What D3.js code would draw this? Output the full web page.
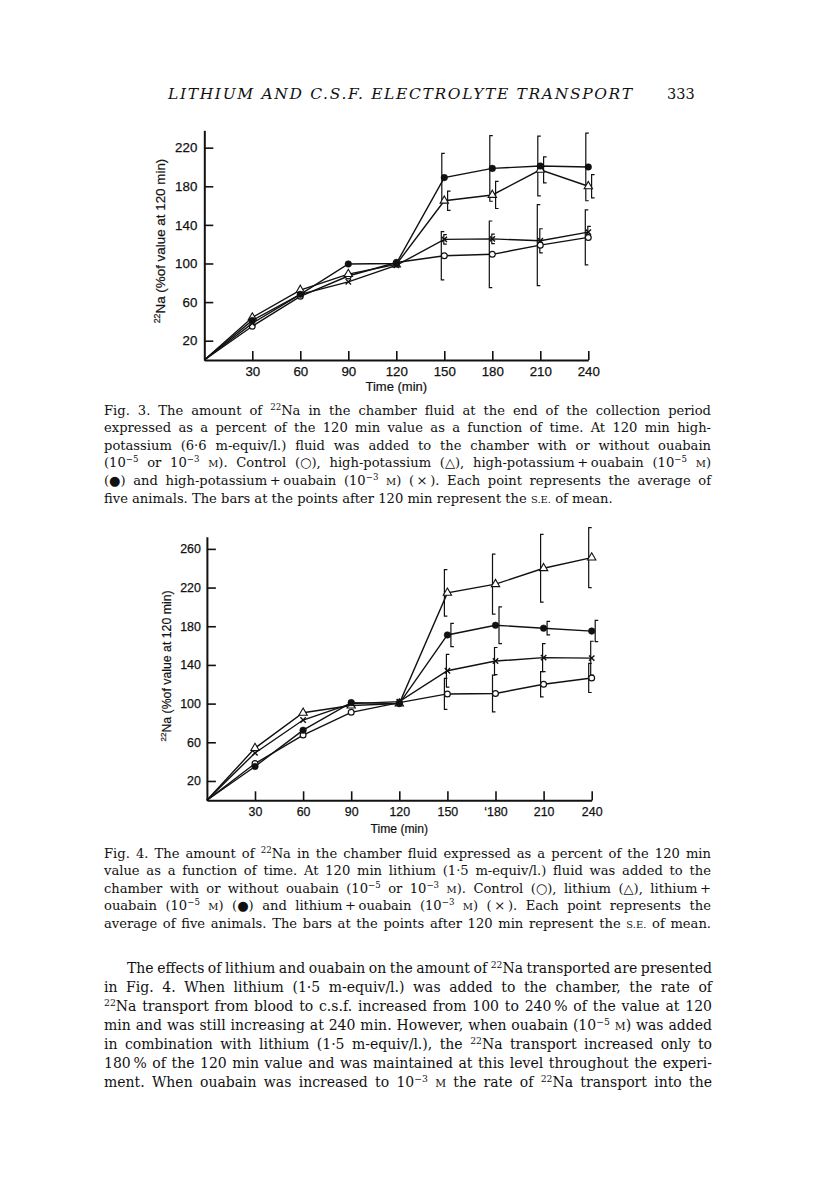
<!DOCTYPE html>
<html>
<head>
<meta charset="utf-8">
<script src="https://cdnjs.cloudflare.com/ajax/libs/d3/7.8.5/d3.min.js"></script>
<style>
html, body { margin: 0; padding: 0; background: #fff; }
svg { display: block; }
</style>
</head>
<body>
<svg id="page" width="816" height="1185"></svg>
<script>
// shared time axis
const times = [0, 30, 60, 90, 120, 150, 180, 210, 240];
const seTimes = [150, 180, 210, 240];
const xTicks = [30, 60, 90, 120, 150, 180, 210, 240];

// Fig. 3 - high potassium
const fig3XLabels = ['30', '60', '90', '120', '150', '180', '210', '240'];
const fig3YTicks = [20, 60, 100, 140, 180, 220];
const fig3Control = [0, 35, 66, 87, 101, 108, 109.5, 119, 127];
const fig3HighK = [0, 44, 72.5, 89, 99, 165, 171, 197, 180];
const fig3HighKOua5 = [0, 41, 68, 99.5, 100, 189, 198.5, 201, 200];
const fig3HighKOua3 = [0, 38, 68, 81, 98, 125, 125.5, 123.5, 132.5];
const fig3ControlSE = [25, 34.5, 42, 28.5];
const fig3HighKSE = [10, 14, 13.5, 12];
const fig3HighKOua5SE = [25, 34, 31, 35];
const fig3HighKOua3SE = [5, 5, 12.5, 6];

// Fig. 4 - lithium
const fig4XLabels = ['30', '60', '90', '120', '150', '\u2018180', '210', '240'];
const fig4YTicks = [20, 60, 100, 140, 180, 220, 260];
const fig4Control = [0, 38, 67.5, 91, 101, 110, 110.5, 120, 126.5];
const fig4Lithium = [0, 54, 90.5, 98, 100, 214.5, 223.5, 240, 251];
const fig4LiOua5 = [0, 35, 72.5, 101, 100, 171, 181, 178, 175];
const fig4LiOua3 = [0, 49, 83, 100, 102, 134, 144, 147.5, 147];
const fig4ControlSE = [16, 19, 13, 15];
const fig4LithiumSE = [24, 31, 35, 31];
const fig4LiOua5SE = [12, 19, 7, 11];
const fig4LiOua3SE = [17, 14, 14.5, 17.5];

// page text
const headerText = 'LITHIUM AND C.S.F. ELECTROLYTE TRANSPORT';
const pageNumber = '333';
const yAxisLabel = '<sup>22</sup>Na (%of value at 120 min)';
const xAxisLabel = 'Time (min)';
const fig3Caption = [
  'Fig. 3. The amount of <sup>22</sup>Na in the chamber fluid at the end of the collection period',
  'expressed as a percent of the 120 min value as a function of time. At 120 min high-',
  'potassium (6\u00b76 m-equiv/l.) fluid was added to the chamber with or without ouabain',
  '(10<sup>\u22125</sup> or 10<sup>\u22123</sup> <sc>m</sc>). Control (\u25cb), high-potassium (\u25b3), high-potassium\u2009+\u2009ouabain (10<sup>\u22125</sup> <sc>m</sc>)',
  '(\u25cf) and high-potassium\u2009+\u2009ouabain (10<sup>\u22123</sup> <sc>m</sc>) (\u2009\u00d7\u2009). Each point represents the average of',
  'five animals. The bars at the points after 120 min represent the <sc>s.e.</sc> of mean.'
];
const fig4Caption = [
  'Fig. 4. The amount of <sup>22</sup>Na in the chamber fluid expressed as a percent of the 120 min',
  'value as a function of time. At 120 min lithium (1\u00b75 m-equiv/l.) fluid was added to the',
  'chamber with or without ouabain (10<sup>\u22125</sup> or 10<sup>\u22123</sup> <sc>m</sc>). Control (\u25cb), lithium (\u25b3), lithium\u2009+',
  'ouabain (10<sup>\u22125</sup> <sc>m</sc>) (\u25cf) and lithium\u2009+\u2009ouabain (10<sup>\u22123</sup> <sc>m</sc>) (\u2009\u00d7\u2009). Each point represents the',
  'average of five animals. The bars at the points after 120 min represent the <sc>s.e.</sc> of mean.'
];
const bodyText = [
  'The effects of lithium and ouabain on the amount of <sup>22</sup>Na transported are presented',
  'in Fig. 4. When lithium (1\u00b75 m-equiv/l.) was added to the chamber, the rate of',
  '<sup>22</sup>Na transport from blood to c.s.f. increased from 100 to 240\u2009% of the value at 120',
  'min and was still increasing at 240 min. However, when ouabain (10<sup>\u22125</sup> <sc>m</sc>) was added',
  'in combination with lithium (1\u00b75 m-equiv/l.), the <sup>22</sup>Na transport increased only to',
  '180\u2009% of the 120 min value and was maintained at this level throughout the experi-',
  'ment. When ouabain was increased to 10<sup>\u22123</sup> <sc>m</sc> the rate of <sup>22</sup>Na transport into the'
];

const svg = d3.select('#page');
const SERIF = '"DejaVu Serif", "Liberation Serif", serif';
const SANS = '"Liberation Sans", Arial, sans-serif';

function parseRich(str) {
  const parts = [];
  const re = /<(sup|sc)>(.*?)<\/\1>/g;
  let last = 0, m;
  while ((m = re.exec(str))) {
    if (m.index > last) parts.push({ t: 'n', s: str.slice(last, m.index) });
    parts.push({ t: m[1], s: m[2] });
    last = re.lastIndex;
  }
  if (last < str.length) parts.push({ t: 'n', s: str.slice(last) });
  return parts;
}

function richText(parent, str, size) {
  const txt = parent.append('text')
    .style('white-space', 'pre')
    .attr('font-size', size);
  const shift = size * 0.37;
  let raised = false;
  parseRich(str).forEach(p => {
    const ts = txt.append('tspan');
    if (p.t === 'sup') {
      ts.attr('font-size', size * 0.66).attr('dy', -shift).text(p.s);
      raised = true;
    } else {
      if (raised) { ts.attr('dy', shift); raised = false; }
      if (p.t === 'sc') ts.attr('font-size', size * 0.76).text(p.s.toUpperCase());
      else ts.text(p.s);
    }
  });
  return txt;
}

function textLine(str, x, y, size, width, justify) {
  const t = richText(svg, str, size)
    .attr('x', x).attr('y', y)
    .attr('font-family', SERIF)
    .attr('fill', '#111');
  if (justify) {
    const w = t.node().getComputedTextLength();
    const n = str.replace(/<[^>]+>/g, '').split(' ').length - 1;
    if (n > 0) t.style('word-spacing', ((width - w) / n) + 'px');
  }
  return t;
}

function drawFigure(cfg) {
  const g = svg.append('g');
  const x = d3.scaleLinear().domain([0, 240]).range([cfg.left, cfg.right]);
  const y = d3.scaleLinear().domain([0, cfg.yMax]).range([cfg.base, cfg.top]);
  const line = d3.line().x((d, i) => x(times[i])).y(d => y(d));

  // axes
  const xAxis = g.append('g').attr('transform', `translate(0,${cfg.base})`)
    .call(d3.axisBottom(x).tickValues(xTicks).tickSize(-9).tickSizeOuter(0)
      .tickPadding(7).tickFormat((d, i) => cfg.xLabels[i]));
  const yAxis = g.append('g').attr('transform', `translate(${cfg.left},0)`)
    .call(d3.axisLeft(y).tickValues(cfg.yTicks).tickSize(-9).tickSizeOuter(0)
      .tickPadding(cfg.yPad));
  [xAxis, yAxis].forEach(a => {
    a.select('.domain').attr('stroke', '#111').attr('stroke-width', 2);
    a.selectAll('.tick line').attr('stroke', '#111').attr('stroke-width', 1.6);
    a.selectAll('.tick text').attr('fill', '#111')
      .attr('stroke', '#111').attr('stroke-width', 0.25)
      .attr('font-family', SANS).attr('font-size', cfg.font);
  });

  g.append('text')
    .attr('x', x(120)).attr('y', cfg.timeY)
    .attr('text-anchor', 'middle')
    .attr('font-family', SANS).attr('font-size', cfg.font * 0.98)
    .attr('fill', '#111')
    .attr('stroke', '#111').attr('stroke-width', 0.2)
    .text(xAxisLabel);

  richText(g, yAxisLabel, cfg.labelFont)
    .attr('transform', `translate(${cfg.labelX},${cfg.labelY}) rotate(-90)`)
    .attr('text-anchor', 'middle')
    .attr('font-family', SANS)
    .attr('fill', '#111')
    .attr('stroke', '#111').attr('stroke-width', 0.2);

  // lines
  cfg.series.forEach(s => {
    g.append('path').datum(s.values)
      .attr('d', line)
      .attr('fill', 'none')
      .attr('stroke', '#111')
      .attr('stroke-width', 1.4);
  });

  // S.E. brackets
  cfg.series.forEach(s => {
    g.selectAll(null).data(seTimes).enter().append('path')
      .attr('d', (t, i) => {
        const v = s.values[times.indexOf(t)];
        const bx = x(t) + s.off;
        return `M${bx + 3},${y(v + s.se[i])}H${bx}V${y(v - s.se[i])}H${bx + 3}`;
      })
      .attr('fill', 'none')
      .attr('stroke', '#111')
      .attr('stroke-width', 1.2);
  });

  // markers
  cfg.series.forEach(s => {
    const pts = g.selectAll(null).data(s.values.slice(1)).enter();
    const px = (d, i) => x(times[i + 1]);
    const py = d => y(d);
    if (s.marker === 'open' || s.marker === 'filled') {
      pts.append('circle')
        .attr('cx', px).attr('cy', py)
        .attr('r', s.marker === 'open' ? 2.9 : 3.3)
        .attr('fill', s.marker === 'open' ? '#fff' : '#111')
        .attr('stroke', '#111')
        .attr('stroke-width', s.marker === 'open' ? 1.2 : 0.5);
    } else if (s.marker === 'tri') {
      pts.append('path')
        .attr('transform', (d, i) => `translate(${px(d, i)},${py(d)})`)
        .attr('d', d3.symbol(d3.symbolTriangle, 30))
        .attr('fill', '#fff')
        .attr('stroke', '#111')
        .attr('stroke-width', 1.1);
    } else {
      pts.append('path')
        .attr('transform', (d, i) => `translate(${px(d, i)},${py(d)})`)
        .attr('d', 'M-2.7,-2.7L2.7,2.7M-2.7,2.7L2.7,-2.7')
        .attr('fill', 'none')
        .attr('stroke', '#111')
        .attr('stroke-width', 1.4);
    }
  });
}

function render() {
  // running header
  const h = svg.append('text')
    .attr('x', 168).attr('y', 99)
    .attr('font-family', SERIF).attr('font-style', 'italic')
    .attr('font-size', 15.5).attr('fill', '#111')
    .text(headerText);
  const hw = h.node().getComputedTextLength();
  h.style('letter-spacing', ((464 - hw) / (headerText.length - 1)) + 'px');
  svg.append('text')
    .attr('x', 667).attr('y', 99)
    .attr('font-family', SERIF).attr('font-size', 14.5).attr('fill', '#111')
    .text(pageNumber);

  drawFigure({
    left: 204.3, right: 588.3, base: 360, top: 130.3, yMax: 238,
    xLabels: fig3XLabels, yTicks: fig3YTicks, yPad: 7, font: 13.3,
    timeY: 391, labelX: 165, labelY: 241, labelFont: 13.4,
    series: [
      { values: fig3Control, se: fig3ControlSE, marker: 'open', off: -3 },
      { values: fig3HighK, se: fig3HighKSE, marker: 'tri', off: 3.3 },
      { values: fig3HighKOua5, se: fig3HighKOua5SE, marker: 'filled', off: -2.5 },
      { values: fig3HighKOua3, se: fig3HighKOua3SE, marker: 'cross', off: -0.5 }
    ]
  });

  drawFigure({
    left: 206.9, right: 591.7, base: 800.3, top: 536.7, yMax: 272.6,
    xLabels: fig4XLabels, yTicks: fig4YTicks, yPad: 6, font: 12.4,
    timeY: 833, labelX: 171, labelY: 666, labelFont: 12.3,
    series: [
      { values: fig4Control, se: fig4ControlSE, marker: 'open', off: -3 },
      { values: fig4Lithium, se: fig4LithiumSE, marker: 'tri', off: -3 },
      { values: fig4LiOua5, se: fig4LiOua5SE, marker: 'filled', off: 3.5 },
      { values: fig4LiOua3, se: fig4LiOua3SE, marker: 'cross', off: -1 }
    ]
  });

  fig3Caption.forEach((s, i) =>
    textLine(s, 104, 414.5 + i * 17.6, 13.1, 607, i < fig3Caption.length - 1));
  fig4Caption.forEach((s, i) =>
    textLine(s, 104, 857.5 + i * 17.6, 13.1, 607, true));
  bodyText.forEach((s, i) =>
    textLine(s, i === 0 ? 127 : 104, 973 + i * 19, 14, i === 0 ? 585 : 608, true));
}

if (document.fonts && document.fonts.ready) document.fonts.ready.then(render);
else render();
</script>
</body>
</html>
